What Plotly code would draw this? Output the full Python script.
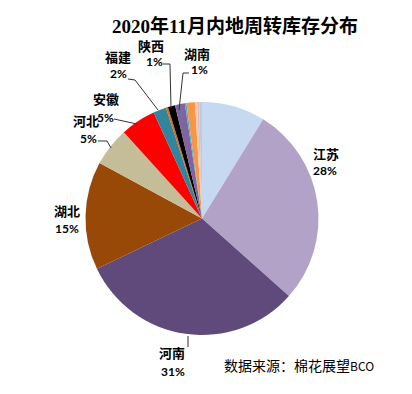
import plotly.graph_objects as go

# ---- data ----
regions = ["其他A", "江苏", "河南", "湖北", "河北", "安徽", "福建", "其他B",
           "陕西", "湖南", "其他C", "其他D", "其他E", "其他F", "其他G"]
shares = [8.8, 27.8, 31.3, 15.0, 5.4, 4.9, 1.8, 0.29,
          1.0, 1.36, 0.22, 1.17, 0.3, 0.28, 0.39]
colors = ["#C6D9F1", "#B3A2C7", "#604A7B", "#984807", "#C4BD97", "#FF0000",
          "#31859C", "#E46C0A", "#000000", "#8064A2", "#4BACC6", "#F79646",
          "#F2C9A6", "#E6B9B8", "#B9CDE5"]
labeled = ["江苏", "河南", "湖北", "河北", "安徽", "福建", "陕西", "湖南"]
title_text = "2020年11月内地周转库存分布"
source_text = "数据来源：棉花展望<span style='font-size:12px'>BCO</span>"

# page body has an 8px default margin: figure occupies page pixels 8..404 / 8..386
OFF = 8
W, H = 396, 378
CX, CY, R = 202, 218.5, 116.5


def px(x):
    return (x - OFF) / W


def py(y):
    return 1 - (y - OFF) / H


fig = go.Figure(go.Pie(
    labels=regions, values=shares, sort=False, direction="clockwise",
    rotation=0, textinfo="none", hoverinfo="label+percent",
    marker=dict(colors=colors, line=dict(width=0)),
    domain=dict(x=[px(CX - R), px(CX + R)], y=[py(CY + R), py(CY - R)]),
    showlegend=False,
))

# label positions (page pixels): name centre, percent centre
label_pos = {
    "江苏": ((326, 153), (325, 171)),
    "河南": ((172, 352), (173, 371)),
    "湖北": ((67, 210), (67, 228)),
    "河北": ((86, 120), (88, 139)),
    "安徽": ((106, 98), (105, 117)),
    "福建": ((118, 56), (119, 73)),
    "陕西": ((151, 45), (154, 61)),
    "湖南": ((197, 53), (199, 70)),
}
total = sum(shares)
ann = []
for name in labeled:
    v = shares[regions.index(name)]
    pct = f"{round(v / total * 100):d}%"
    (nx, ny), (qx, qy) = label_pos[name]
    ann.append(dict(x=px(nx), y=py(ny), xref="paper", yref="paper", text=name,
                    showarrow=False, xanchor="center", yanchor="middle",
                    font=dict(family="Noto Sans CJK SC", size=13, color="#000", weight="bold")))
    ann.append(dict(x=px(qx), y=py(qy), xref="paper", yref="paper", text=pct,
                    showarrow=False, xanchor="center", yanchor="middle",
                    font=dict(family="Lato, Noto Sans CJK SC", size=12, color="#000", weight="bold")))

ann.append(dict(x=px(235), y=py(26), xref="paper", yref="paper", text=title_text,
                showarrow=False, xanchor="center", yanchor="middle",
                font=dict(family="Liberation Serif, Noto Sans CJK SC", size=19, color="#000", weight="bold")))
ann.append(dict(x=px(222), y=py(365), xref="paper", yref="paper", text=source_text,
                showarrow=False, xanchor="left", yanchor="middle",
                font=dict(family="Noto Sans CJK SC", size=14, color="#000")))

# leader lines (page pixel paths)
leaders = [
    [(188, 336), (188, 347)],
    [(98, 141), (107, 141), (111, 148)],
    [(114, 119), (137, 124)],
    [(128, 79), (135, 80), (158, 110)],
    [(163, 64), (170, 64), (171, 108)],
    [(189, 73), (183, 73), (179, 110)],
]
shapes = []
for pts in leaders:
    path = "M " + " L ".join(f"{px(x):.5f},{py(y):.5f}" for x, y in pts)
    shapes.append(dict(type="path", path=path, xref="paper", yref="paper",
                       line=dict(color="#333", width=1)))

fig.update_layout(width=W, height=H, margin=dict(l=0, r=0, t=0, b=0),
                  paper_bgcolor="white", plot_bgcolor="white",
                  annotations=ann, shapes=shapes)
fig.write_html("out.html")
